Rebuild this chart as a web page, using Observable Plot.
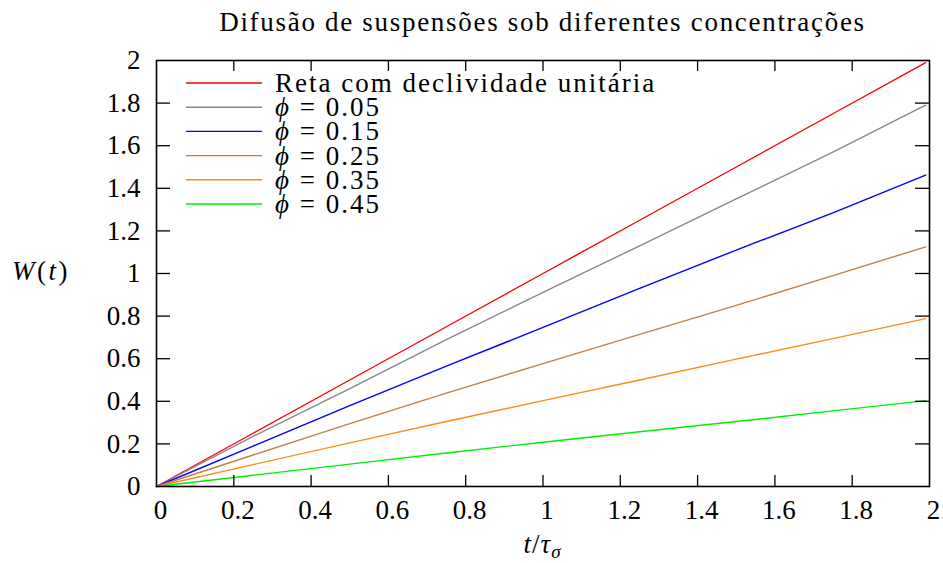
<!DOCTYPE html>
<html>
<head>
<meta charset="utf-8">
<script src="https://cdn.jsdelivr.net/npm/d3@7"></script>
<script src="https://cdn.jsdelivr.net/npm/@observablehq/plot@0.6"></script>
<style>
  html, body { margin: 0; padding: 0; background: #fff; }
</style>
</head>
<body>
<div id="chart"></div>
<script>
// Time samples t/τσ
const t = [0, 0.25, 0.5, 0.75, 1, 1.25, 1.5, 1.75, 1.99];

// W(t) for each volume fraction
const reference = [0, 0.25, 0.5, 0.75, 1, 1.25, 1.5, 1.75, 1.99];
const phi005 = [0, 0.235, 0.46, 0.69, 0.911, 1.13, 1.35, 1.57, 1.79];
const phi015 = [0, 0.19, 0.38, 0.565, 0.747, 0.93, 1.11, 1.285, 1.462];
const phi025 = [0, 0.148, 0.295, 0.438, 0.577, 0.714, 0.85, 0.99, 1.125];
const phi035 = [0, 0.103, 0.205, 0.305, 0.403, 0.50, 0.598, 0.694, 0.788];
const phi045 = [0, 0.053, 0.105, 0.157, 0.208, 0.257, 0.305, 0.355, 0.403];

const seriesNames = ["Reta com declividade unitária", "0.05", "0.15", "0.25", "0.35", "0.45"];
const seriesValues = [reference, phi005, phi015, phi025, phi035, phi045];
const seriesColors = ["#ff0000", "#888888", "#0000ff", "#c0804a", "#ff8a1c", "#00ee00"];

// Axis ticks
const xTicks = [0, 0.2, 0.4, 0.6, 0.8, 1, 1.2, 1.4, 1.6, 1.8, 2];
const xTickLabels = ["0", "0.2", "0.4", "0.6", "0.8", "1", "1.2", "1.4", "1.6", "1.8", "2"];
const yTicks = [0, 0.2, 0.4, 0.6, 0.8, 1, 1.2, 1.4, 1.6, 1.8, 2];
const yTickLabels = ["0", "0.2", "0.4", "0.6", "0.8", "1", "1.2", "1.4", "1.6", "1.8", "2"];

const title = "Difusão de suspensões sob diferentes concentrações";

const rows = seriesValues.flatMap((vals, i) =>
  vals.map((w, j) => ({t: t[j], w, series: seriesNames[i], color: seriesColors[i]}))
);

const FONT = "Liberation Serif";
const FS = 27;
const W = 943, H = 563;
const M = {left: 156, right: 14, top: 60, bottom: 77};
const plotH = H - M.top - M.bottom;
const plotW = W - M.left - M.right;

const innerX = xTicks.filter(v => v > 0 && v < 2);
const innerY = yTicks.filter(v => v > 0 && v < 2);

// Legend in the upper-left corner of the frame, plus title and axis labels
function decorations(index, scales, values, dims) {
  const g = d3.create("svg:g")
    .attr("font-family", FONT)
    .attr("font-size", FS)
    .attr("text-anchor", "start")
    .attr("fill", "black");

  const lx0 = dims.marginLeft + 30, lx1 = dims.marginLeft + 106;
  const tx = dims.marginLeft + 119;
  const y0 = dims.marginTop + 23, step = 24.2;
  seriesNames.forEach((name, i) => {
    const y = y0 + i * step;
    g.append("line")
      .attr("x1", lx0).attr("x2", lx1).attr("y1", y).attr("y2", y)
      .attr("stroke", seriesColors[i]).attr("stroke-width", 1.4);
    const txt = g.append("text").attr("x", tx).attr("y", y + 9)
      .attr("letter-spacing", 2);
    if (i === 0) {
      txt.text(name);
    } else {
      txt.append("tspan").attr("font-style", "italic").text("ϕ");
      txt.append("tspan").text(" = " + name);
    }
  });

  const cx = dims.marginLeft + (dims.width - dims.marginLeft - dims.marginRight) / 2;
  g.append("text").attr("x", cx).attr("y", 31).attr("text-anchor", "middle")
    .attr("letter-spacing", 1.7).text(title);

  const yl = g.append("text").attr("x", 12).attr("y", 280).attr("letter-spacing", 2.5);
  yl.append("tspan").attr("font-style", "italic").text("W");
  yl.append("tspan").text("(");
  yl.append("tspan").attr("font-style", "italic").text("t");
  yl.append("tspan").text(")");

  const xl = g.append("text").attr("x", cx).attr("y", 553).attr("text-anchor", "middle")
    .attr("letter-spacing", 1);
  xl.append("tspan").attr("font-style", "italic").text("t");
  xl.append("tspan").text("/");
  xl.append("tspan").attr("font-style", "italic").text("τ");
  xl.append("tspan").attr("font-style", "italic").attr("font-size", 19).attr("dy", 5).text("σ");

  return g.node();
}

const chart = Plot.plot({
  width: W,
  height: H,
  marginLeft: M.left,
  marginRight: M.right,
  marginTop: M.top,
  marginBottom: M.bottom,
  style: {fontFamily: FONT, fontSize: FS + "px", background: "white", color: "black"},
  x: {domain: [0, 2], axis: null},
  y: {domain: [0, 2], axis: null},
  color: {type: "identity"},
  marks: [
    Plot.line(rows, {x: "t", y: "w", z: "series", stroke: "color", strokeWidth: 1.4}),
    // inward tick marks on all four sides
    Plot.ruleX(innerX, {x: d => d, insetTop: plotH - 11, stroke: "black", strokeWidth: 1.3}),
    Plot.ruleX(innerX, {x: d => d, insetBottom: plotH - 11, stroke: "black", strokeWidth: 1.3}),
    Plot.ruleY(innerY, {y: d => d, insetRight: plotW - 14, stroke: "black", strokeWidth: 1.3}),
    Plot.ruleY(innerY, {y: d => d, insetLeft: plotW - 14, stroke: "black", strokeWidth: 1.3}),
    Plot.frame({stroke: "black", strokeWidth: 1.6}),
    // tick labels
    Plot.text(xTicks, {x: d => d, text: (d, i) => xTickLabels[i], frameAnchor: "bottom",
      dy: 24, dx: 4, lineAnchor: "middle", fontSize: FS, fill: "black"}),
    Plot.text(yTicks, {y: d => d, text: (d, i) => yTickLabels[i], frameAnchor: "left",
      dx: -16, textAnchor: "end", lineAnchor: "middle", fontSize: FS, fill: "black"}),
    decorations
  ]
});

document.getElementById("chart").appendChild(chart);
</script>
</body>
</html>
